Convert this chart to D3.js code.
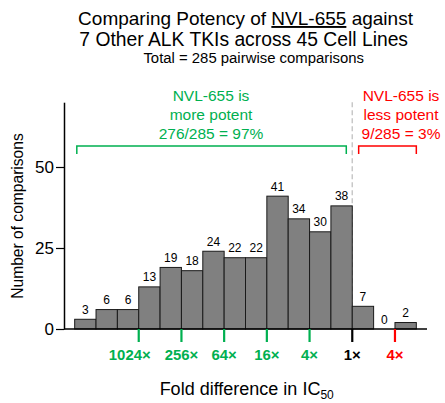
<!DOCTYPE html>
<html>
<head>
<meta charset="utf-8">
<script src="https://cdn.jsdelivr.net/npm/d3@7"></script>
<style>
  body { margin: 0; background: #fff; }
  svg text { font-family: "Liberation Sans", Arial, sans-serif; }
</style>
</head>
<body>
<div id="chart"></div>
<script>
// bins in log2 fold units, left edge of each bar (negative = NVL-655 more potent)
const binStarts = [-13, -12, -11, -10, -9, -8, -7, -6, -5, -4, -3, -2, -1, 0, 1, 2];
const counts = [3, 6, 6, 13, 19, 18, 24, 22, 22, 41, 34, 30, 38, 7, 0, 2];
const tickPos = [-10, -8, -6, -4, -2, 0, 2];
const tickLabels = ['1024×', '256×', '64×', '16×', '4×', '1×', '4×'];
const tickKinds = ['more', 'more', 'more', 'more', 'more', 'even', 'less'];
const yTicks = [0, 25, 50];

const GREEN = '#00b050', RED = '#ff0000';
const kindColor = { more: GREEN, even: '#000', less: RED };

const W = 445, H = 403;
const svg = d3.select('#chart').append('svg').attr('width', W).attr('height', H);

const x = d3.scaleLinear().domain([-13.5, 3.5]).range([64, 427]);
const y = d3.scaleLinear().domain([0, 70]).range([329, 102.2]);

// titles
svg.append('text').attr('x', 245.5).attr('y', 25).attr('text-anchor', 'middle')
  .attr('font-size', 19)
  .call(t => {
    t.append('tspan').text('Comparing Potency of ');
    t.append('tspan').attr('text-decoration', 'underline').text('NVL-655');
    t.append('tspan').text(' against');
  });
svg.append('text').attr('x', 243.7).attr('y', 45.5).attr('text-anchor', 'middle')
  .attr('font-size', 19.3).text('7 Other ALK TKIs across 45 Cell Lines');
svg.append('text').attr('x', 253.7).attr('y', 63).attr('text-anchor', 'middle')
  .attr('font-size', 14.9).text('Total = 285 pairwise comparisons');

// dashed divider at 1x
svg.append('line')
  .attr('x1', x(0)).attr('x2', x(0)).attr('y1', y(70)).attr('y2', y(0))
  .attr('stroke', '#c8c8c8').attr('stroke-width', 1.5).attr('stroke-dasharray', '5,3');

// bars
svg.selectAll('.bar')
  .data(counts.map((c, i) => ({ c: c, s: binStarts[i] })).filter(d => d.c > 0))
  .enter().append('rect')
    .attr('class', 'bar')
    .attr('x', d => x(d.s))
    .attr('y', d => y(d.c))
    .attr('width', d => x(d.s + 1) - x(d.s))
    .attr('height', d => y(0) - y(d.c))
    .attr('fill', '#808080')
    .attr('stroke', '#1a1a1a')
    .attr('stroke-width', 1);

svg.selectAll('.bar-label')
  .data(counts.map((c, i) => ({ c: c, s: binStarts[i] })))
  .enter().append('text')
    .attr('x', d => x(d.s + 0.5))
    .attr('y', d => y(d.c) - 5.5)
    .attr('text-anchor', 'middle')
    .attr('font-size', 12)
    .attr('fill', '#000')
    .text(d => d.c);

// y axis
const yAxis = svg.append('g').attr('transform', 'translate(64,0)')
  .call(d3.axisLeft(y).tickValues(yTicks).tickSize(8).tickPadding(2).tickSizeOuter(0));
yAxis.select('.domain').attr('stroke', '#000').attr('stroke-width', 1.5);
yAxis.selectAll('.tick line').attr('stroke', '#000').attr('stroke-width', 1.2);
yAxis.selectAll('.tick text').attr('font-size', 17).attr('fill', '#000')
  .style('font-family', '"Liberation Sans", Arial, sans-serif');

// x axis line
svg.append('line').attr('x1', x(-13.5)).attr('x2', x(3.5)).attr('y1', y(0)).attr('y2', y(0))
  .attr('stroke', '#000').attr('stroke-width', 1.5);

// x ticks; the widest label (first) is nudged left so it clears its neighbour
const xt = svg.selectAll('.xtick').data(tickPos).enter().append('g')
  .attr('transform', d => 'translate(' + x(d) + ',' + y(0) + ')');
xt.append('line').attr('y1', 0).attr('y2', 13)
  .attr('stroke', (d, i) => kindColor[tickKinds[i]]).attr('stroke-width', 2.2);
xt.append('text').attr('y', 31)
  .attr('x', (d, i) => i === 0 ? -9 : 0)
  .attr('text-anchor', 'middle')
  .attr('font-size', 14.9).attr('font-weight', 'bold')
  .attr('fill', (d, i) => kindColor[tickKinds[i]])
  .text((d, i) => tickLabels[i]);

// axis titles
svg.append('text').attr('transform', 'translate(23,216) rotate(-90)')
  .attr('text-anchor', 'middle').attr('font-size', 15.6).text('Number of comparisons');
svg.append('text').attr('x', 246.7).attr('y', 394.5).attr('text-anchor', 'middle')
  .attr('font-size', 18)
  .call(t => {
    t.append('tspan').text('Fold difference in IC');
    t.append('tspan').attr('font-size', 12).attr('dy', 4).text('50');
  });

// brackets
function bracket(x0, x1, color) {
  const yb = 146, drop = 8;
  svg.append('path')
    .attr('d', 'M' + x0 + ',' + (yb + drop) + 'V' + yb + 'H' + x1 + 'V' + (yb + drop))
    .attr('fill', 'none').attr('stroke', color).attr('stroke-width', 1.5);
}
bracket(x(-12.9), x(-0.28), GREEN);
bracket(x(0.3), x(3), RED);

function note(cx, lines, color) {
  lines.forEach((l, i) => {
    svg.append('text').attr('x', cx).attr('y', 101 + i * 19)
      .attr('text-anchor', 'middle').attr('font-size', 15.5).attr('fill', color).text(l);
  });
}
note(211, ['NVL-655 is', 'more potent', '276/285 = 97%'], GREEN);
note(401, ['NVL-655 is', 'less potent', '9/285 = 3%'], RED);
</script>
</body>
</html>
